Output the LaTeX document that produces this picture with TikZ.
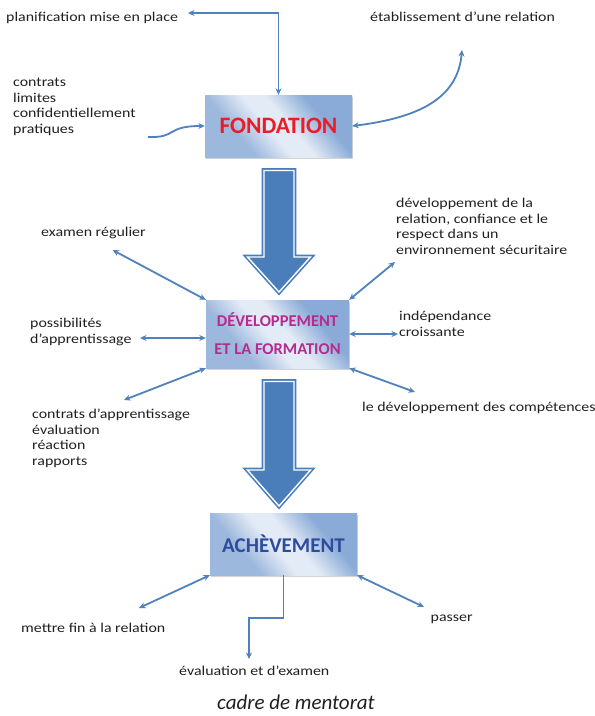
\documentclass[tikz,border=0pt]{standalone}
\usepackage{fontspec}
\setmainfont{Carlito}
\newfontfamily\widefont{Carlito}[FakeStretch=1.18]
\usetikzlibrary{arrows.meta,shadows}

\definecolor{ink}{HTML}{231F20}
\definecolor{linkblue}{HTML}{4F81BD}
\definecolor{bigblue}{HTML}{4A7EBB}
\definecolor{boxedge}{HTML}{9DB8DD}
\definecolor{boxlight}{HTML}{E3EBF6}
\definecolor{boxedgeb}{HTML}{8AABD7}
\definecolor{fondred}{HTML}{EC1C24}
\definecolor{devmag}{HTML}{B52B8E}
\definecolor{achblue}{HTML}{2F4B9E}

% glossy fill of the stage boxes: a light diagonal band between two blues
\pgfdeclarehorizontalshading{glossband}{100bp}{%
  color(0bp)=(boxedge); color(33bp)=(boxedge); color(46bp)=(boxlight);
  color(54bp)=(boxlight); color(68bp)=(boxedgeb); color(100bp)=(boxedgeb)}

\tikzset{
  stage/.style={rectangle, inner sep=0pt,
    shading=glossband, shading angle=40,
    drop shadow={shadow xshift=1.2pt, shadow yshift=-1.5pt, opacity=0.35}},
  lbl/.style={anchor=base west, inner sep=0pt, text=ink, align=left,
    font=\widefont\fontsize{13.5}{15.5}\selectfont},
  link/.style={draw=linkblue, line width=1.8pt,
    >={Stealth[length=6.5pt, width=6pt]}},
  bigarrow/.style={draw=bigblue, fill=bigblue, line width=1.6pt,
    double=white, double distance=1.4pt, line join=miter},
}

\begin{document}
\begin{tikzpicture}[x=1pt, y=-1pt]
\path[use as bounding box] (0,0) rectangle (595,716);

% --- stage boxes ---
\node[stage, minimum width=147pt, minimum height=62pt,
  font=\fontsize{23.5}{28}\bfseries, text=fondred] (fond) at (278.5,126) {FONDATION};
\node[stage, minimum width=143pt, minimum height=68pt, align=center,
  font=\fontsize{16.5}{28}\bfseries, text=devmag] (dev) at (277.5,334)
  {DÉVELOPPEMENT\\ET LA FORMATION};
\node[stage, minimum width=147pt, minimum height=62pt,
  font=\fontsize{21}{25}\bfseries, text=achblue] (ach) at (283.5,544) {ACHÈVEMENT};

% --- broad arrows between the stages ---
\draw[bigarrow] (264,170.5) -- (294,170.5) -- (294,257) -- (310.5,257)
  -- (279,292) -- (247.5,257) -- (264,257) -- cycle;
\draw[bigarrow] (264,381.5) -- (294,381.5) -- (294,470) -- (310.5,470)
  -- (279,506) -- (247.5,470) -- (264,470) -- cycle;

% --- labels (anchored on the baseline of their last line) ---
\node[lbl] (plan) at (6,21.5) {planification mise en place};
\node[lbl] (etab) at (370,21) {établissement d’une relation};
\node[lbl] (contr) at (13,133) {contrats\\limites\\confidentiellement\\pratiques};
\node[lbl] (exam) at (41,236) {examen régulier};
\node[lbl] (relat) at (396,254) {développement de la\\relation, confiance et le\\respect dans un\\environnement sécuritaire};
\node[lbl] (indep) at (399,336) {indépendance\\croissante};
\node[lbl] (possib) at (30,343) {possibilités\\d’apprentissage};
\node[lbl] (contap) at (32,465) {contrats d’apprentissage\\évaluation\\réaction\\rapports};
\node[lbl] (compet) at (362,411) {le développement des compétences};
\node[lbl] (fin) at (21,632) {mettre fin à la relation};
\node[lbl] (passer) at (430.5,621) {passer};
\node[lbl] (evalx) at (179,675) {évaluation et d’examen};
\node[anchor=base west, inner sep=0pt, text=ink,
  font=\fontsize{21}{24}\selectfont\itshape] (title) at (217,709.5) {cadre de mentorat};

% --- free ends of the connectors ---
\coordinate (planE) at (188,13);
\coordinate (etabE) at (462,50);
\coordinate (contrE) at (148,137);
\coordinate (examE) at (112.6,250);
\coordinate (relatE) at (395,262);
\coordinate (indepE) at (398,334);
\coordinate (possibE) at (140,338);
\coordinate (contapE) at (124,400);
\coordinate (competE) at (415,392);
\coordinate (finE) at (139,608);
\coordinate (passerE) at (424,607);
\coordinate (evalB) at (249,618);
\coordinate (evalE) at (249,659);

% --- connectors ---
\draw[link, <->] (planE) -| (fond.north);
\draw[link, <->] (fond.east) .. controls (425,117) and (458,95) .. (etabE);
\draw[link, ->] (contrE) .. controls (178,138) and (165,126) .. (fond.west);

\draw[link, <->] (examE) -- (dev.north west);
\draw[link, <->] (relatE) -- (dev.north east);
\draw[link, <->] (dev.east) -- (indepE);
\draw[link, <->] (possibE) -- (possibE -| dev.west);
\draw[link, <->] (dev.south west) -- (contapE);
\draw[link, <->] (dev.south east) -- (competE);

\draw[link, <->] (ach.south west) -- (finE);
\draw[link, <->] (ach.south east) -- (passerE);
\draw[link, ->] (ach.south) |- (evalB) -- (evalE);
\end{tikzpicture}
\end{document}
